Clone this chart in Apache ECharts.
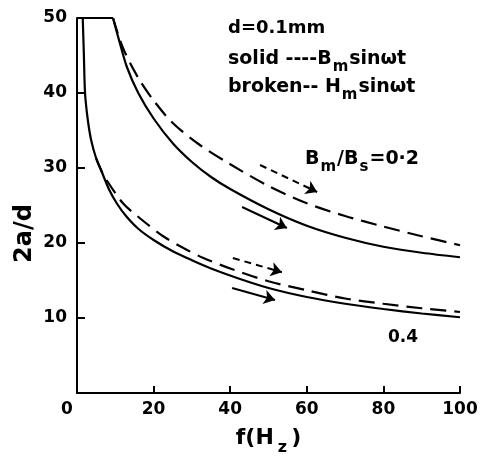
<!DOCTYPE html>
<html lang="en">
<head>
    <meta http-equiv="Content-Type" content="text/html; charset=utf-8"/>
    <title>2a/d vs f</title>
    <script type="text/javascript" src="https://cdn.jsdelivr.net/npm/echarts@6/dist/echarts.min.js"></script>
</head>
<style>
    *{
        margin: 0;
        padding: 0;
    }
    html, body {
        width: 100%;
        height: 100%;
        background: #fff;
    }
    .main {
        width: 482px;
        height: 459px;
    }
</style>
<body>
<div id="main" class="main"></div>
</body>
<script type="text/javascript">
    // 刻度
    var xTicks = [0, 20, 40, 60, 80, 100];
    var yTicks = [10, 20, 30, 40, 50];

    // 顶部平台 (2a/d = 50)
    var cap = [[0, 50], [9.4, 50]];
    // Bm/Bs = 0.2, solid (Bm sinωt)
    var solid02 = [[9.4, 50], [11, 47], [13, 43.5], [16, 40], [20, 36.6], [25, 33.3], [30, 30.8], [35, 28.8],
        [40, 27.2], [50, 24.5], [60, 22.3], [70, 20.7], [80, 19.5], [90, 18.7], [100, 18.1]];
    // Bm/Bs = 0.2, broken (Hm sinωt)
    var broken02 = [[9.4, 50], [12, 46], [16, 42], [20, 39], [25, 36], [32, 33.1],
        [40, 30.5], [50, 27.6], [60, 25.3], [70, 23.6], [80, 22.2], [90, 20.9], [100, 19.7]];
    // Bm/Bs = 0.4, solid
    var solid04 = [[1.5, 50], [1.8, 45], [2.1, 40], [2.8, 36.5], [3.7, 33.7], [5, 31.3], [6.3, 29.7],
        [8.4, 27.1], [10.5, 25.2], [12.8, 23.6], [16, 21.9], [20, 20.4], [25, 18.9], [30, 17.7], [35, 16.6],
        [42, 15.3], [50, 14], [60, 12.8], [70, 11.9], [80, 11.2], [90, 10.6], [100, 10.1]];
    // Bm/Bs = 0.4, broken
    var broken04 = [[5, 31.3], [6.3, 29.7], [8.1, 28.1], [12, 25.3], [16.2, 23.4], [22.5, 20.9], [27.9, 19.3],
        [33, 18], [40, 16.6], [50, 14.9], [60, 13.7], [70, 12.6], [80, 11.9], [90, 11.3], [100, 10.8]];

    // 箭头 (start, end)
    var arrowsSolid = [[[43.1, 24.8], [54.8, 22]], [[40.5, 14], [51.7, 12.4]]];
    var arrowsBroken = [[[47.8, 30.4], [62.7, 26.8]], [[40.7, 18], [53.5, 16.1]]];

    var font = 'DejaVu Sans';
    var curveWidth = 2.2;

    function curve(data, dashed, smooth) {
        return {
            type: 'line',
            data: data,
            symbol: 'none',
            smooth: smooth,
            lineStyle: {color: '#000', width: curveWidth, type: dashed ? [16, 8] : 'solid'},
            z: 3
        };
    }

    function arrows(list, dashed) {
        return {
            type: 'lines',
            coordinateSystem: 'cartesian2d',
            symbol: ['none', 'arrow'],
            symbolSize: 11,
            lineStyle: {color: '#000', width: 2, type: dashed ? [7, 5] : 'solid', opacity: 1},
            data: list.map(function (c) { return {coords: c}; }),
            z: 4
        };
    }

    var sub = {fontSize: 15, fontWeight: 'bold', fontFamily: font, color: '#000', verticalAlign: 'bottom', padding: [0, 1, -6, 1]};
    var norm = {fontSize: 19, fontWeight: 'bold', fontFamily: font, color: '#000'};

    var option = {
        backgroundColor: '#fff',
        animation: false,
        grid: {left: 77, right: 22, top: 18, bottom: 66, outerBoundsMode: 'none', containLabel: false},
        xAxis: {
            type: 'value',
            min: 0,
            max: 100,
            interval: 20,
            name: '{t|f(H}{s|z}{t|)}',
            nameLocation: 'middle',
            nameGap: 34,
            nameMoveOverlap: false,
            nameTextStyle: {
                rich: {
                    t: {fontSize: 22, fontWeight: 'bold', fontFamily: font, color: '#000', padding: [0, 3]},
                    s: {fontSize: 16, fontWeight: 'bold', fontFamily: font, color: '#000', verticalAlign: 'bottom', padding: [0, 1, -7, 1]}
                }
            },
            axisLine: {lineStyle: {color: '#000', width: 2}},
            axisTick: {inside: true, length: 7, lineStyle: {color: '#000', width: 2}},
            splitLine: {show: false},
            axisLabel: {
                color: '#000', fontSize: 17, fontWeight: 'bold', fontFamily: font, margin: 8,
                formatter: function (v) { return v === 0 ? '{z|0}' : xTicks.indexOf(v) >= 0 ? String(v) : ''; },
                rich: {z: {color: '#000', fontSize: 17, fontWeight: 'bold', fontFamily: font, padding: [0, 20, 0, 0]}}
            }
        },
        yAxis: {
            type: 'value',
            min: 0,
            max: 50,
            interval: 10,
            name: '2a/d',
            nameLocation: 'middle',
            nameGap: 40,
            nameMoveOverlap: false,
            nameTextStyle: {color: '#000', fontSize: 24, fontWeight: 'bold', fontFamily: font, padding: [0, 56, 0, 0]},
            axisLine: {lineStyle: {color: '#000', width: 2}},
            axisTick: {inside: true, length: 8, lineStyle: {color: '#000', width: 2}},
            splitLine: {show: false},
            axisLabel: {
                color: '#000', fontSize: 17, fontWeight: 'bold', fontFamily: font, margin: 10, showMinLabel: false,
                formatter: function (v) { return yTicks.indexOf(v) >= 0 ? String(v) : ''; }
            }
        },
        graphic: [
            {type: 'text', left: 228, top: 19, style: {text: 'd=0.1mm', font: 'bold 18px "DejaVu Sans"', fill: '#000'}},
            {type: 'text', left: 228, top: 50, style: {
                text: '{n|solid ----B}{s|m}{n|sinωt}', rich: {n: norm, s: sub}}},
            {type: 'text', left: 228, top: 78, style: {
                text: '{n|broken-- H}{s|m}{n|sinωt}', rich: {n: norm, s: sub}}},
            {type: 'text', left: 305, top: 150, style: {
                text: '{n|B}{s|m}{n|/B}{s|s}{n|=0·2}', rich: {n: norm, s: sub}}},
            {type: 'text', left: 388, top: 329, style: {text: '0.4', font: 'bold 17px "DejaVu Sans"', fill: '#000'}}
        ],
        series: [
            curve(cap, false, false),
            curve(solid02, false, 0.3),
            curve(broken02, true, 0.3),
            curve(solid04, false, 0.3),
            curve(broken04, true, 0.3),
            arrows(arrowsSolid, false),
            arrows(arrowsBroken, true)
        ]
    };

    var chart = echarts.init(document.getElementById('main'));
    chart.setOption(option);
</script>

</html>
